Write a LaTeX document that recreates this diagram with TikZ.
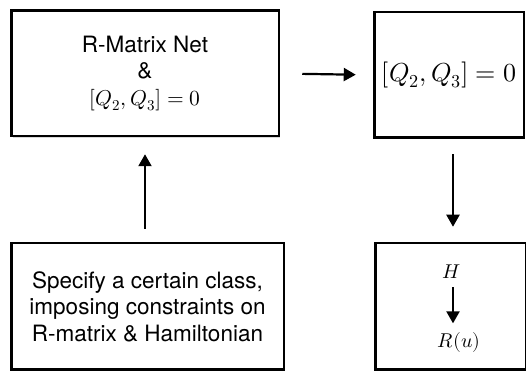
\documentclass[tikz,border=0pt]{standalone}
\usepackage{unicode-math}
\setmainfont{TeX Gyre Heros}
\setmathfont{Latin Modern Math}
\usetikzlibrary{arrows.meta,shadows}

\begin{document}
\begin{tikzpicture}[x=1pt,y=1pt,
  every node/.style={font=\fontsize{22.5}{26.5}\selectfont},
  box/.style={draw,line width=2.5pt,fill=white,inner sep=0pt,
    drop shadow={shadow xshift=1.5pt,shadow yshift=-1.5pt,opacity=0.3}},
  arr/.style={line width=2.2pt,-{Triangle[length=12pt,width=13pt]}}]
\useasboundingbox (0,0) rectangle (526,371);
% top row
\node[box,minimum width=267.5pt,minimum height=125.5pt,align=center] (net) at (145,297.5) {R-Matrix Net\\ \&\\ \fontsize{21.5}{26.5}\selectfont$[Q_2,Q_3]=0$};
\node[box,minimum width=149.5pt,minimum height=125.5pt,font=\fontsize{26}{30}\selectfont] (comm) at (449,296) {$[Q_2,Q_3]=0$};
% bottom row
\node[box,minimum width=272.5pt,minimum height=126.5pt,align=center] (spec) at (147.5,64.5) {Specify a certain class,\\imposing constraints on\\R-matrix \& Hamiltonian};
\node[box,minimum width=150.5pt,minimum height=126.5pt] (res) at (450.5,64.5) {};
\node[inner sep=0pt,font=\fontsize{20}{24}\selectfont] (ham) at (452,99) {$H$};
\node[inner sep=0pt,font=\fontsize{20}{24}\selectfont] (rmat) at (459,28) {$R(u)$};
% connectors
\draw[arr,shorten <=22.25pt,shorten >=17.25pt] (net.east) -- (comm.west);
\draw[arr,shorten <=16.75pt,shorten >=15.25pt] ([xshift=4pt,yshift=1.5pt]comm.south) -- ([xshift=2.5pt]res.north);
\draw[arr,shorten <=13.25pt,shorten >=16.75pt] ([xshift=-2.5pt]spec.north) -- (net.south);
\draw[arr,shorten <=8pt,shorten >=9.5pt] ([xshift=1pt]ham.south) -- ([xshift=-6pt]rmat.north);
\end{tikzpicture}
\end{document}
